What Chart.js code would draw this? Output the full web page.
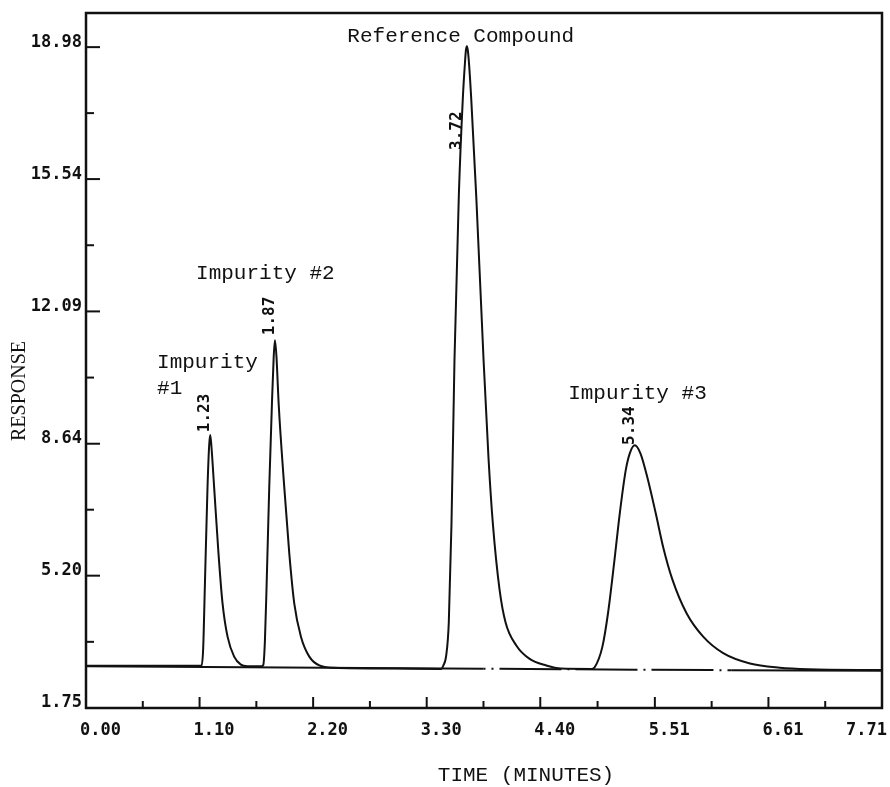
<!DOCTYPE html>
<html>
<head>
<meta charset="utf-8">
<script src="https://cdn.jsdelivr.net/npm/chart.js@4"></script>
<style>
  body { margin: 0; background: #fff; }
  canvas { display: block; }
</style>
</head>
<body>
<canvas id="chrom" width="890" height="787"></canvas>
<script>
// tick values / labels
const xTicks = [0.00, 1.10, 2.20, 3.30, 4.40, 5.51, 6.61, 7.71];
const yTicks = [1.75, 5.20, 8.64, 12.09, 15.54, 18.98];

// detector trace (time in minutes, response)
const signalX = [0.00, 1.00, 1.12, 1.135, 1.151, 1.177, 1.193, 1.203, 1.214, 1.241, 1.283, 1.322, 1.371, 1.435, 1.50, 1.56, 1.70,
  1.717, 1.733, 1.749, 1.775, 1.801, 1.818, 1.830, 1.845, 1.866, 1.920, 1.969, 2.017, 2.082, 2.163, 2.26, 2.40, 3.00, 3.44,
  3.46, 3.489, 3.514, 3.540, 3.569, 3.611, 3.650, 3.670, 3.680, 3.689, 3.698, 3.710, 3.731, 3.780, 3.851, 3.899, 3.941, 4.006, 4.064, 4.168, 4.297, 4.459, 4.60, 4.90,
  4.927, 5.002, 5.056, 5.115, 5.170, 5.228, 5.267, 5.315, 5.370, 5.444, 5.519, 5.590, 5.681, 5.817, 5.978, 6.172, 6.431, 6.72, 7.00, 7.71];
const signalY = [2.85, 2.85, 2.86, 3.30, 4.90, 7.51, 8.60, 8.87, 8.60, 7.51, 5.79, 4.49, 3.61, 3.09, 2.88, 2.84, 2.84,
  2.87, 3.50, 4.91, 7.52, 9.69, 10.90, 11.34, 10.90, 9.69, 7.52, 5.78, 4.48, 3.61, 3.09, 2.86, 2.80, 2.78, 2.77,
  2.85, 3.12, 3.98, 6.55, 10.81, 15.09, 17.65, 18.55, 18.90, 19.00, 18.90, 18.55, 17.65, 15.09, 10.81, 8.25, 6.55, 4.83, 3.98, 3.38, 3.03, 2.86, 2.78, 2.77,
  2.81, 3.35, 4.22, 5.52, 6.82, 7.95, 8.39, 8.60, 8.39, 7.69, 6.82, 5.95, 5.09, 4.22, 3.61, 3.18, 2.91, 2.80, 2.76, 2.74];

// drawn baseline
const baseX = [0.00, 3.85, 6.25, 7.71];
const baseY = [2.84, 2.775, 2.735, 2.72];

// peak names and retention time marks
const peakNames = ['Reference Compound', 'Impurity #2', 'Impurity', '#1', 'Impurity #3'];
const peakNameX = [3.63, 1.066, 0.688, 0.688, 4.67];
const peakNameY = [19.27, 13.09, 10.77, 10.07, 9.96];
const rtLabels = ['1.23', '1.87', '3.72', '5.34'];
const rtX = [1.153, 1.783, 3.595, 5.27];
const rtY = [8.94, 11.47, 16.30, 8.61];

const ink = '#111';
const tickFont = 'bold 17px "DejaVu Sans Mono", monospace';
const typeFont = '21px "Liberation Mono", "Courier New", monospace';

const pts = (xs, ys) => xs.map((x, i) => ({ x, y: ys[i] }));

const frame = {
  id: 'frame',
  afterDraw(chart) {
    const { ctx, chartArea: a, scales: { x, y } } = chart;
    const line = (x1, y1, x2, y2) => {
      ctx.beginPath(); ctx.moveTo(x1, y1); ctx.lineTo(x2, y2); ctx.stroke();
    };
    ctx.save();
    ctx.strokeStyle = ink;
    ctx.fillStyle = ink;
    ctx.lineWidth = 2.5;
    ctx.strokeRect(a.left, a.top, a.right - a.left, a.bottom - a.top);

    // inward ticks
    ctx.lineWidth = 2;
    yTicks.forEach((v, i) => {
      const py = y.getPixelForValue(v);
      line(a.left, py, a.left + 14, py);
      if (i < yTicks.length - 1) {
        const pm = y.getPixelForValue((v + yTicks[i + 1]) / 2);
        line(a.left, pm, a.left + 8, pm);
      }
    });
    xTicks.forEach((v, i) => {
      const px = x.getPixelForValue(v);
      line(px, a.bottom, px, a.bottom - 11);
      if (i < xTicks.length - 1) {
        const pm = x.getPixelForValue((v + xTicks[i + 1]) / 2);
        line(pm, a.bottom, pm, a.bottom - 7);
      }
    });

    // x tick labels
    ctx.font = tickFont;
    ctx.textAlign = 'left';
    ctx.textBaseline = 'middle';
    xTicks.forEach(v => {
      const s = v.toFixed(2);
      const w = ctx.measureText(s).width;
      const px = Math.min(x.getPixelForValue(v) - 6, chart.width - 3 - w);
      ctx.fillText(s, px, a.bottom + 23);
    });

    // axis titles
    ctx.font = typeFont;
    ctx.textAlign = 'center';
    ctx.fillText('TIME (MINUTES)', 526, 775);
    ctx.save();
    ctx.translate(20, 391);
    ctx.rotate(-Math.PI / 2);
    ctx.font = '20px "Liberation Serif", "Times New Roman", serif';
    ctx.fillText('RESPONSE', 0, 0);
    ctx.restore();

    // peak names
    peakNames.forEach((s, i) => {
      ctx.textAlign = i === 0 ? 'center' : 'left';
      ctx.fillText(s, x.getPixelForValue(peakNameX[i]), y.getPixelForValue(peakNameY[i]));
    });

    // retention times, rotated
    ctx.font = 'bold 16px "DejaVu Sans Mono", monospace';
    ctx.textAlign = 'left';
    rtLabels.forEach((s, i) => {
      ctx.save();
      ctx.translate(x.getPixelForValue(rtX[i]), y.getPixelForValue(rtY[i]));
      ctx.rotate(-Math.PI / 2);
      ctx.fillText(s, 0, 0);
      ctx.restore();
    });
    ctx.restore();
  }
};

new Chart(document.getElementById('chrom'), {
  type: 'line',
  data: {
    datasets: [
      {
        data: pts(baseX, baseY),
        borderColor: ink,
        borderWidth: 2,
        pointRadius: 0,
        segment: {
          borderDash: ctx => ctx.p0DataIndex === 1 ? [2, 6, 2, 6, 60, 0] : undefined
        }
      },
      {
        data: pts(signalX, signalY),
        borderColor: ink,
        borderWidth: 2,
        pointRadius: 0,
        cubicInterpolationMode: 'monotone'
      }
    ]
  },
  options: {
    responsive: false,
    animation: false,
    layout: { padding: { top: 13, right: 8, left: 0, bottom: 0 } },
    plugins: { legend: { display: false }, tooltip: { enabled: false } },
    scales: {
      x: {
        type: 'linear',
        min: 0,
        max: 7.71,
        grid: { display: false, drawTicks: false },
        border: { display: false },
        ticks: { display: false },
        afterBuildTicks: s => { s.ticks = xTicks.map(v => ({ value: v })); },
        afterFit: s => { s.height = 79; s.paddingLeft = 0; s.paddingRight = 0; }
      },
      y: {
        min: 1.75,
        max: 19.87,
        grid: { display: false, drawTicks: false },
        border: { display: false },
        ticks: {
          color: ink,
          font: { family: '"DejaVu Sans Mono", monospace', size: 17, weight: 'bold' },
          padding: 4,
          labelOffset: -5,
          callback: v => v.toFixed(2)
        },
        afterBuildTicks: s => { s.ticks = yTicks.map(v => ({ value: v })); },
        afterFit: s => { s.width = 86; s.paddingTop = 0; s.paddingBottom = 0; }
      }
    }
  },
  plugins: [frame]
});
</script>
</body>
</html>
